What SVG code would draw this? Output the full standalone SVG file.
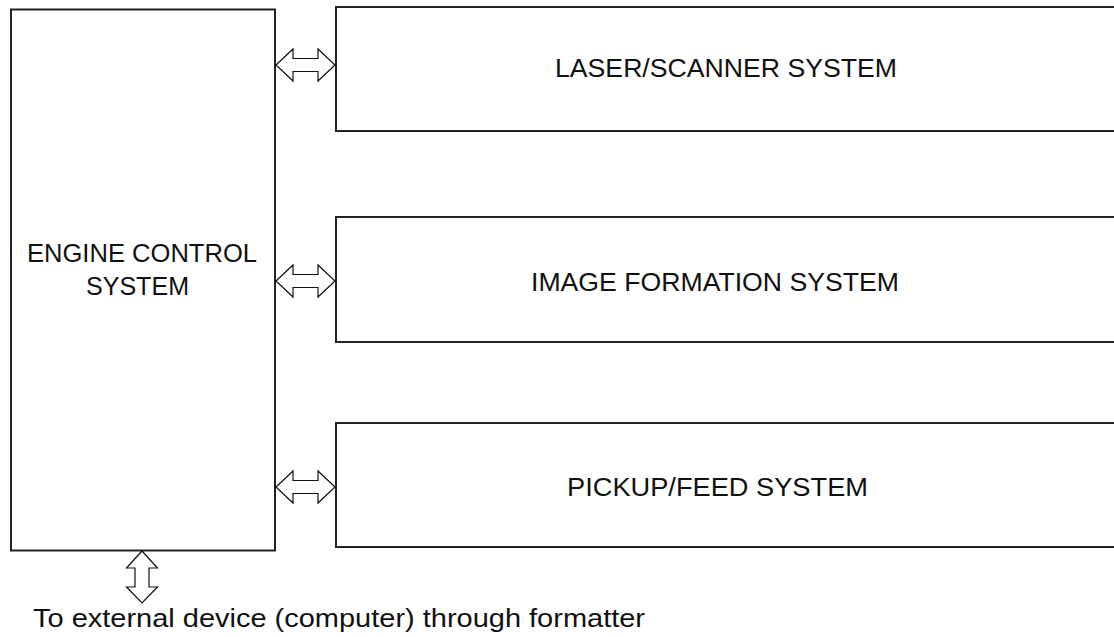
<svg xmlns="http://www.w3.org/2000/svg" width="1114" height="637" viewBox="0 0 1114 637">
<style>
.box{fill:#fff;stroke:#222;stroke-width:2}
.arr{fill:#fff;stroke:#111;stroke-width:1.2;stroke-linejoin:miter}
text{font-family:"Liberation Sans",Arial,sans-serif;font-size:25px;fill:#111}
</style>
<rect width="1114" height="637" fill="#fff"/>
<g id="engine">
<rect class="box" x="11" y="9.5" width="264" height="541"/>
<text x="27" y="262" textLength="230" lengthAdjust="spacingAndGlyphs">ENGINE CONTROL</text>
<text x="86" y="295" textLength="103" lengthAdjust="spacingAndGlyphs">SYSTEM</text>
</g>
<g id="laser">
<path class="box" d="M1120 7 H336 V131 H1120"/>
<text x="555" y="77" textLength="342" lengthAdjust="spacingAndGlyphs">LASER/SCANNER SYSTEM</text>
</g>
<g id="image">
<path class="box" d="M1120 217 H336 V342 H1120"/>
<text x="531" y="291" textLength="368" lengthAdjust="spacingAndGlyphs">IMAGE FORMATION SYSTEM</text>
</g>
<g id="pickup">
<path class="box" d="M1120 423 H336 V547 H1120"/>
<text x="567" y="496" textLength="301" lengthAdjust="spacingAndGlyphs">PICKUP/FEED SYSTEM</text>
</g>
<g id="connectors">
<path class="arr" d="M276 65 L293 49 V58.5 H318 V49 L335 65 L318 81 V71.5 H293 V81 Z"/>
<path class="arr" d="M276 281 L293 265 V274.5 H318 V265 L335 281 L318 297 V287.5 H293 V297 Z"/>
<path class="arr" d="M276 487 L293 471 V480.5 H318 V471 L335 487 L318 503 V493.5 H293 V503 Z"/>
<path class="arr" d="M142 551 L157.5 568 H149 V587 H157.5 L142 603 L126.5 587 H135 V568 H126.5 Z"/>
</g>
<g id="external">
<text x="33" y="627" font-size="26" textLength="612" lengthAdjust="spacingAndGlyphs">To external device (computer) through formatter</text>
</g>
</svg>
